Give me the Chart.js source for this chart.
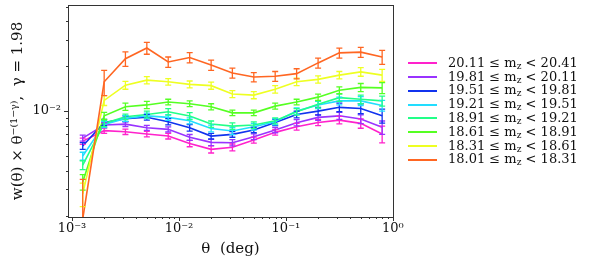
<!DOCTYPE html>
<html>
<head>
<meta charset="utf-8">
<script src="https://cdn.jsdelivr.net/npm/chart.js@4/dist/chart.umd.min.js"></script>
<style>
  body { margin: 0; background: #fff; }
  #wrap { position: relative; width: 592px; height: 266px; }
  #c { position: absolute; left: 0; top: 0; }
  #legend { position: absolute; left: 408px; top: 0; font: 13px "DejaVu Serif", serif; color: #111; }
  .row { position: absolute; left: 0; height: 14px; line-height: 14px; white-space: nowrap; }
  .sw { display: inline-block; width: 29px; height: 2px; vertical-align: middle; margin-right: 11px; }
  sub { font-size: 9px; line-height: 0; vertical-align: -2px; }
</style>
</head>
<body>
<div id="wrap">
  <canvas id="c" width="592" height="266"></canvas>
  <div id="legend"></div>
</div>
<script>
// angular bins, deg
const thetas = [0.00126, 0.002, 0.00316, 0.00501, 0.00794, 0.0126, 0.02, 0.0316, 0.0501, 0.0794, 0.126, 0.2, 0.316, 0.501, 0.794];

const binLo = [20.11, 19.81, 19.51, 19.21, 18.91, 18.61, 18.31, 18.01];
const binHi = [20.41, 20.11, 19.81, 19.51, 19.21, 18.91, 18.61, 18.31];
const colors = ["#ff22cc", "#9933ff", "#1133ee", "#22ddff", "#22ff88", "#55ff22", "#eeff22", "#ff6622"];

const wPink   = [0.0063, 0.0074, 0.00728, 0.00703, 0.00681, 0.00608, 0.00555, 0.00573, 0.00641, 0.00721, 0.00787, 0.0084, 0.00871, 0.00828, 0.00703];
const wPurple = [0.0066, 0.00807, 0.00819, 0.00774, 0.00755, 0.00668, 0.00618, 0.00615, 0.00674, 0.00747, 0.00836, 0.00908, 0.0093, 0.00885, 0.00779];
const wBlue   = [0.00585, 0.0084, 0.0089, 0.0091, 0.0085, 0.00774, 0.00681, 0.00699, 0.00747, 0.0084, 0.0095, 0.0100, 0.0106, 0.0104, 0.0093];
const wCyan   = [0.00501, 0.00815, 0.00894, 0.0093, 0.00908, 0.00862, 0.00766, 0.00736, 0.00787, 0.00849, 0.0100, 0.0110, 0.0117, 0.0117, 0.0109];
const wSpring = [0.00436, 0.00828, 0.00916, 0.0095, 0.0099, 0.00927, 0.00819, 0.00794, 0.00807, 0.00862, 0.0099, 0.0111, 0.0123, 0.0120, 0.0117];
const wGreen  = [0.00336, 0.00931, 0.0107, 0.0110, 0.0115, 0.0112, 0.0107, 0.00974, 0.00974, 0.0108, 0.0115, 0.0124, 0.0138, 0.0144, 0.0143];
const wYellow = [0.0028, 0.0118, 0.0149, 0.0161, 0.0157, 0.0151, 0.0148, 0.0130, 0.0128, 0.0140, 0.0157, 0.0163, 0.0174, 0.0183, 0.0174];
const wOrange = [0.0019, 0.0157, 0.0224, 0.0264, 0.0213, 0.0228, 0.0203, 0.0180, 0.0169, 0.0171, 0.0178, 0.0210, 0.0245, 0.0248, 0.0230];

const ePink   = [0.0003, 0.0003, 0.0003, 0.0003, 0.0003, 0.0003, 0.0003, 0.0003, 0.0003, 0.0003, 0.0004, 0.0004, 0.0005, 0.0006, 0.0009];
const ePurple = [0.0003, 0.0003, 0.0003, 0.0003, 0.0003, 0.0003, 0.0003, 0.0003, 0.0003, 0.0003, 0.0004, 0.0004, 0.0005, 0.0006, 0.0008];
const eBlue   = [0.0003, 0.0004, 0.0004, 0.0004, 0.0004, 0.0004, 0.0003, 0.0003, 0.0003, 0.0004, 0.0005, 0.0006, 0.0007, 0.0008, 0.0010];
const eCyan   = [0.0003, 0.0004, 0.0004, 0.0004, 0.0004, 0.0004, 0.0004, 0.0004, 0.0004, 0.0004, 0.0005, 0.0006, 0.0007, 0.0008, 0.0009];
const eSpring = [0.0003, 0.0004, 0.0004, 0.0005, 0.0005, 0.0005, 0.0004, 0.0004, 0.0004, 0.0004, 0.0005, 0.0006, 0.0007, 0.0008, 0.0009];
const eGreen  = [0.0004, 0.0005, 0.0006, 0.0006, 0.0005, 0.0005, 0.0005, 0.0004, 0.0004, 0.0005, 0.0005, 0.0006, 0.0007, 0.0009, 0.0012];
const eYellow = [0.0005, 0.0009, 0.0009, 0.0009, 0.0008, 0.0008, 0.0008, 0.0007, 0.0007, 0.0008, 0.0009, 0.0009, 0.0010, 0.0012, 0.0016];
const eOrange = [0.0016, 0.0030, 0.0025, 0.0024, 0.0017, 0.0018, 0.0016, 0.0014, 0.0012, 0.0013, 0.0014, 0.0016, 0.0019, 0.0019, 0.0025];

const series = [wPink, wPurple, wBlue, wCyan, wSpring, wGreen, wYellow, wOrange];
const errors = [ePink, ePurple, eBlue, eCyan, eSpring, eGreen, eYellow, eOrange];

const xMajor = [0.001, 0.01, 0.1, 1];
const yMajor = [0.01];

const sup = { '-': '⁻', '0': '⁰', '1': '¹', '2': '²', '3': '³', '4': '⁴' };
function powLabel(v) {
  const e = Math.log10(v);
  if (Math.abs(e - Math.round(e)) > 1e-6) return '';
  return '10' + String(Math.round(e)).split('').map(c => sup[c]).join('');
}

function minorValues(lo, hi) {
  const out = [];
  for (let e = Math.floor(Math.log10(lo)); e <= Math.ceil(Math.log10(hi)); e++) {
    for (let m = 1; m < 10; m++) {
      const v = m * Math.pow(10, e);
      if (v >= lo && v <= hi) out.push({ v, major: m === 1 });
    }
  }
  return out;
}

const axisColor = '#333';

const decor = {
  id: 'decor',
  afterDatasetsDraw(chart) {
    const { ctx, chartArea: a, scales: { x, y } } = chart;
    ctx.save();
    ctx.beginPath();
    ctx.rect(a.left, a.top, a.right - a.left, a.bottom - a.top);
    ctx.clip();
    ctx.lineWidth = 1.3;
    series.forEach((vals, k) => {
      ctx.strokeStyle = colors[k];
      vals.forEach((v, i) => {
        const px = x.getPixelForValue(thetas[i]);
        const y1 = y.getPixelForValue(v + errors[k][i]);
        const y2 = y.getPixelForValue(Math.max(v - errors[k][i], 1e-5));
        ctx.beginPath();
        ctx.moveTo(px, y1); ctx.lineTo(px, y2);
        ctx.moveTo(px - 3, y1); ctx.lineTo(px + 3, y1);
        ctx.moveTo(px - 3, y2); ctx.lineTo(px + 3, y2);
        ctx.stroke();
      });
    });
    ctx.restore();
  },
  afterDraw(chart) {
    const { ctx, chartArea: a, scales: { x, y } } = chart;
    ctx.save();
    ctx.strokeStyle = axisColor;
    ctx.lineWidth = 1;
    ctx.strokeRect(Math.round(a.left) + 0.5, Math.round(a.top) + 0.5, Math.round(a.right - a.left), Math.round(a.bottom - a.top));
    ctx.beginPath();
    minorValues(x.min, x.max).forEach(t => {
      const px = Math.round(x.getPixelForValue(t.v)) + 0.5;
      ctx.moveTo(px, a.bottom); ctx.lineTo(px, a.bottom + (t.major ? 4 : 2));
    });
    minorValues(y.min, y.max).forEach(t => {
      const py = Math.round(y.getPixelForValue(t.v)) + 0.5;
      ctx.moveTo(a.left, py); ctx.lineTo(a.left - (t.major ? 4 : 2), py);
    });
    ctx.stroke();
    ctx.restore();
  }
};

const font = { family: '"DejaVu Serif", serif', size: 13 };

new Chart(document.getElementById('c'), {
  type: 'line',
  data: {
    datasets: series.map((vals, k) => ({
      label: binLo[k] + ' ≤ mz < ' + binHi[k],
      data: vals.map((v, i) => ({ x: thetas[i], y: v })),
      borderColor: colors[k],
      borderWidth: 1.6,
      pointRadius: 0,
      tension: 0,
      fill: false,
      order: -k
    }))
  },
  options: {
    responsive: false,
    animation: false,
    layout: { padding: { left: 0, right: 199, top: 5, bottom: 0 } },
    plugins: { legend: { display: false }, tooltip: { enabled: false } },
    scales: {
      x: {
        type: 'logarithmic',
        min: 0.000918,
        max: 1.003,
        afterBuildTicks: s => { s.ticks = xMajor.map(v => ({ value: v })); },
        afterFit: s => { s.height = 49; s.paddingLeft = 0; s.paddingRight = 0; },
        grid: { display: false, drawTicks: false, tickLength: 0 },
        border: { display: false },
        ticks: { callback: v => powLabel(v), autoSkip: false, maxRotation: 0, padding: 4, color: '#111', font },
        title: { display: true, text: 'θ  (deg)', color: '#111', font: { family: '"DejaVu Serif", serif', size: 15 }, padding: { top: 0, bottom: 8 } }
      },
      y: {
        type: 'logarithmic',
        min: 0.00196,
        max: 0.0512,
        afterBuildTicks: s => { s.ticks = yMajor.map(v => ({ value: v })); },
        afterFit: s => { s.width = 68; s.paddingTop = 0; s.paddingBottom = 0; },
        grid: { display: false, drawTicks: false, tickLength: 0 },
        border: { display: false },
        ticks: { callback: v => powLabel(v), autoSkip: false, padding: 7, color: '#111', font },
        title: { display: true, text: 'w(θ) × θ⁻⁽¹⁻ᵞ⁾,  γ = 1.98', color: '#111', font: { family: '"DejaVu Serif", serif', size: 15 }, padding: { top: 9, bottom: 0 } }
      }
    }
  },
  plugins: [decor]
});

const legend = document.getElementById('legend');
binLo.forEach((lo, k) => {
  const row = document.createElement('div');
  row.className = 'row';
  row.style.top = (55.7 + k * 13.8) + 'px';
  row.innerHTML = '<span class="sw" style="background:' + colors[k] + '"></span>' +
    lo.toFixed(2) + ' ≤ m<sub>z</sub> &lt; ' + binHi[k].toFixed(2);
  legend.appendChild(row);
});
</script>
</body>
</html>
